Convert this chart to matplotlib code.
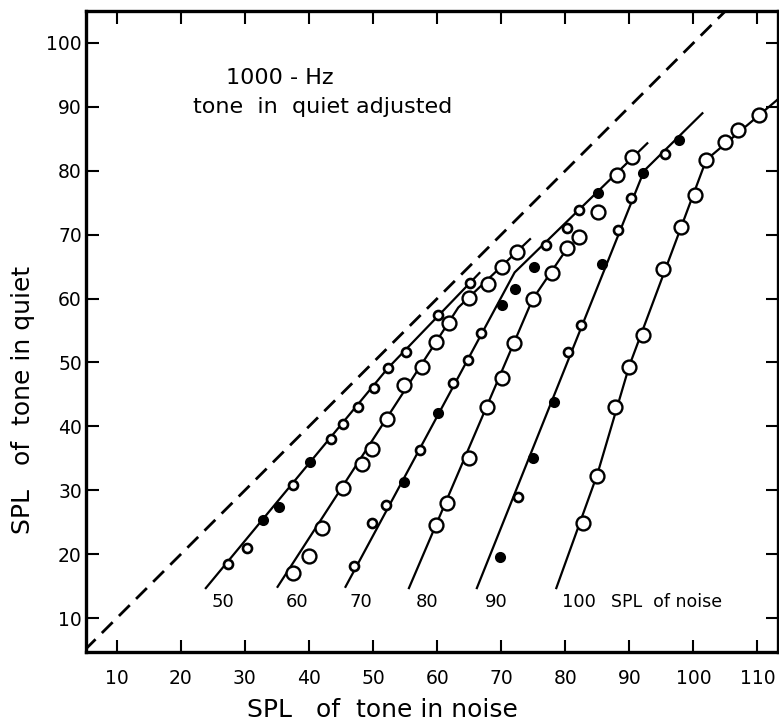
import matplotlib
matplotlib.use("Agg")
import matplotlib.pyplot as plt

# ── Data ──────────────────────────────────────────────────────
# marker codes: o = large open circle, r = small ring, f = filled dot
x50 = [27.3, 30.3, 32.9, 35.3, 37.5, 40.2, 43.4, 45.3, 47.6, 50.2, 52.3, 55.1, 60.1, 65.1]
y50 = [18.5, 21.0, 25.3, 27.4, 30.8, 34.4, 38.0, 40.4, 43.0, 46.0, 49.1, 51.6, 57.4, 62.4]
m50 = "rrffrfrrrrrrrr"

x60 = [37.5, 40.0, 42.0, 45.3, 48.2, 49.9, 52.1, 54.9, 57.7, 59.9, 61.9, 64.9, 67.9, 70.2, 72.4]
y60 = [17.0, 19.7, 24.1, 30.3, 34.1, 36.4, 41.2, 46.5, 49.3, 53.2, 56.2, 60.1, 62.3, 64.9, 67.3]
m60 = "ooooooooooooooo"

x70 = [47.0, 49.8, 52.0, 54.9, 57.3, 60.1, 62.4, 64.8, 66.9, 70.2, 72.1, 75.1,
       77.0, 80.2, 82.2, 85.1, 88.0, 90.4]
y70 = [18.1, 24.9, 27.7, 31.3, 36.3, 42.1, 46.8, 50.4, 54.6, 59.0, 61.5, 65.0,
       68.4, 71.0, 73.8, 76.5, 79.3, 82.2]
m70 = "rrrfrfrrrfffrrrfoo"

x80 = [59.8, 61.6, 64.9, 67.8, 70.2, 72.0, 74.9, 78.0, 80.2, 82.2, 85.1]
y80 = [24.6, 28.0, 35.0, 43.1, 47.6, 53.0, 59.9, 64.0, 67.9, 69.6, 73.6]
m80 = "ooooooooooo"

x90 = [69.8, 72.7, 74.9, 78.2, 80.4, 82.5, 85.7, 88.2, 90.3, 92.1, 95.5, 97.7]
y90 = [19.5, 28.9, 35.0, 43.8, 51.6, 55.9, 65.4, 70.7, 75.7, 79.6, 82.6, 84.8]
m90 = "frffrrfrrfrf"

x100 = [82.7, 85.0, 87.8, 90.0, 92.1, 95.2, 98.1, 100.2, 102.0, 104.9, 107.0, 110.2]
y100 = [24.9, 32.2, 43.0, 49.3, 54.3, 64.6, 71.2, 76.2, 81.7, 84.5, 86.4, 88.7]
m100 = "oooooooooooo"

# hand-drawn fit lines
fit50_x = [23.9, 52.3, 66.6]
fit50_y = [14.7, 49.1, 64.0]
fit60_x = [35.1, 63.3, 74.5]
fit60_y = [14.9, 58.6, 69.3]
fit70_x = [45.7, 72.1, 92.8]
fit70_y = [14.9, 64.1, 84.3]
fit80_x = [55.6, 74.9, 80.8]
fit80_y = [14.7, 59.9, 68.6]
fit90_x = [66.2, 92.3, 101.4]
fit90_y = [14.7, 80.0, 89.0]
fit100_x = [78.6, 85.0, 90.0, 102.0, 113.2]
fit100_y = [14.7, 32.5, 49.5, 81.7, 91.2]

noise_levels = ["50", "60", "70", "80", "90", "100"]
label_x = [26.5, 38.1, 48.1, 58.4, 69.3, 82.2]

curves = [
    (x50, y50, m50, fit50_x, fit50_y),
    (x60, y60, m60, fit60_x, fit60_y),
    (x70, y70, m70, fit70_x, fit70_y),
    (x80, y80, m80, fit80_x, fit80_y),
    (x90, y90, m90, fit90_x, fit90_y),
    (x100, y100, m100, fit100_x, fit100_y),
]

# ── Plot ──────────────────────────────────────────────────────
fig = plt.figure(figsize=(7.79, 7.26), dpi=100)
ax = fig.add_axes([86 / 779, 1 - 652 / 726, (778 - 86) / 779, (652 - 11) / 726])

ax.plot([5, 110], [5, 110], color="black", lw=2, ls=(0, (5.5, 3.2)), zorder=2)

styles = {
    "o": dict(marker="o", ms=10, mfc="white", mec="black", mew=1.7),
    "r": dict(marker="o", ms=6.5, mfc="white", mec="black", mew=1.9),
    "f": dict(marker="o", ms=6.5, mfc="black", mec="black", mew=1.5),
}

for xs, ys, marks, fx, fy in curves:
    ax.plot(fx, fy, color="black", lw=1.6, zorder=2)
    for code in "orf":
        px = [x for x, c in zip(xs, marks) if c == code]
        py = [y for y, c in zip(ys, marks) if c == code]
        if px:
            ax.plot(px, py, ls="none", zorder=3, **styles[code])

for lab, lx in zip(noise_levels, label_x):
    ax.text(lx, 12.5, lab, ha="center", va="center", fontsize=13)
ax.text(87.2, 12.5, "SPL  of noise", ha="left", va="center", fontsize=12.5)

ax.text(35.4, 94.5, "1000 - Hz", ha="center", va="center", fontsize=16)
ax.text(42.2, 90.0, "tone  in  quiet adjusted", ha="center", va="center", fontsize=16)

ax.set_xlim(5.2, 113.2)
ax.set_ylim(4.7, 105.0)
ax.set_xticks(range(10, 111, 10))
ax.set_yticks(range(10, 101, 10))
ax.tick_params(direction="in", length=9, width=1.5, top=True, right=True,
               labelsize=13.5)
ax.tick_params(axis="x", pad=12)
ax.tick_params(axis="y", pad=3)
for s in ax.spines.values():
    s.set_linewidth(2.4)

fig.text(382 / 779, 1 - 710 / 726, "SPL   of  tone in noise", ha="center", va="center",
         fontsize=18)
fig.text(23 / 779, 1 - 400 / 726, "SPL   of  tone in quiet", ha="center", va="center",
         fontsize=18, rotation=90)

fig.savefig("out.png", dpi=100, facecolor="white")
